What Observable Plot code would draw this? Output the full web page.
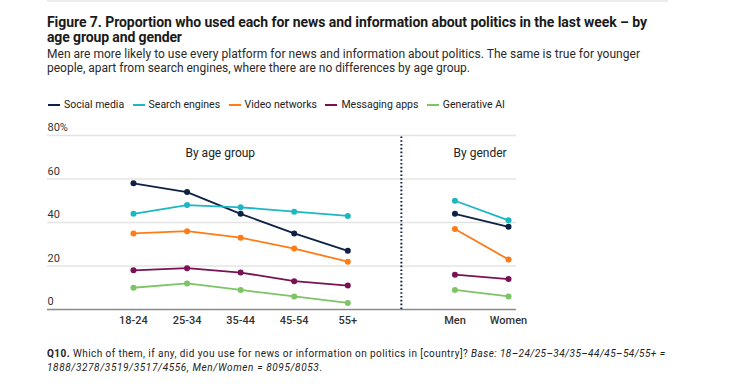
<!DOCTYPE html>
<html><head><meta charset="utf-8">
<script src="https://cdn.jsdelivr.net/npm/d3@7"></script>
<script src="https://cdn.jsdelivr.net/npm/@observablehq/plot@0.6"></script>
<style>
body{margin:0;background:#fff;font-family:Roboto,"Noto Sans",sans-serif;color:#1a1a1a;}
#page{position:relative;width:733px;height:392px;overflow:hidden;}
.topline{position:absolute;left:47px;top:0;width:621px;height:2px;background:#ececec;}
.fit{display:inline-block;white-space:nowrap;}
.title{position:absolute;left:47px;top:15.4px;font-size:14px;font-weight:700;line-height:15px;color:#1a1a1a;}
.subtitle{position:absolute;left:47px;top:47px;font-size:12px;line-height:14.4px;color:#2a2a2a;}
.legend{position:absolute;left:48px;top:98px;font-size:10.5px;line-height:13px;color:#222;display:flex;align-items:center;white-space:nowrap;}
.legend .item{display:flex;align-items:center;margin-right:8.5px;}
.legend .sw{width:12px;height:2px;margin-right:4px;}
#chart{position:absolute;left:0;top:115px;}
.caption{position:absolute;left:47px;top:346.6px;font-size:10px;line-height:14px;color:#222;}
</style></head>
<body><div id="page">
<div class="topline"></div>
<div class="title"><span class="fit" data-w="600">Figure 7. Proportion who used each for news and information about politics in the last week – by</span><br><span class="fit" data-w="135">age group and gender</span></div>
<div class="subtitle"><span class="fit" data-w="593">Men are more likely to use every platform for news and information about politics. The same is true for younger</span><br><span class="fit" data-w="423">people, apart from search engines, where there are no differences by age group.</span></div>
<div class="legend" id="legend"></div>
<div id="chart"></div>
<div class="caption"><span class="fit" data-w="618"><b>Q10.</b> Which of them, if any, did you use for news or information on politics in [country]? <i>Base: 18–24/25–34/35–44/45–54/55+ =</i></span><br><span class="fit" data-w="275"><i>1888/3278/3519/3517/4556, Men/Women = 8095/8053</i>.</span></div>
</div>
<script>
// ---- data ----
const ageGroups = ["18-24","25-34","35-44","45-54","55+"];
const genders = ["Men","Women"];
const platforms = ["Social media","Search engines","Video networks","Messaging apps","Generative AI"];
const platformColors = ["#0e2145","#1bb8c4","#ff7b16","#7a1155","#7dc465"];
const ageSocial = [58,54,44,35,27];
const ageSearch = [44,48,47,45,43];
const ageVideo = [35,36,33,28,22];
const ageMessaging = [18,19,17,13,11];
const ageGenAI = [10,12,9,6,3];
const genderSocial = [44,38];
const genderSearch = [50,41];
const genderVideo = [37,23];
const genderMessaging = [16,14];
const genderGenAI = [9,6];
const yTicks = [0,20,40,60,80];
const groupLabels = ["By age group","By gender"];

// ---- build table ----
const ageSeries = [ageSocial,ageSearch,ageVideo,ageMessaging,ageGenAI];
const genderSeries = [genderSocial,genderSearch,genderVideo,genderMessaging,genderGenAI];
const slots = [...ageGroups, "", ...genders];
const sepIndex = ageGroups.length;
const rows = [];
platforms.forEach((p,k)=>{
  ageSeries[k].forEach((v,i)=>rows.push({platform:p,group:"age",slot:i,value:v}));
  genderSeries[k].forEach((v,j)=>rows.push({platform:p,group:"gender",slot:sepIndex+1+j,value:v}));
});
const labelRows = [{text:groupLabels[0],x:1.62,y:71.7},{text:groupLabels[1],x:6.47,y:71.7}];

// legend
const lg = document.getElementById("legend");
platforms.forEach((p,k)=>{
  const it = document.createElement("div"); it.className="item";
  const sw = document.createElement("div"); sw.className="sw"; sw.style.background=platformColors[k];
  const tx = document.createElement("span"); tx.textContent=p;
  it.appendChild(sw); it.appendChild(tx); lg.appendChild(it);
});

const chart = Plot.plot({
  width: 733, height: 215,
  marginTop: 20, marginBottom: 21, marginLeft: 47, marginRight: 217,
  style: {fontFamily: "Roboto, 'Noto Sans', sans-serif", fontSize: "11px", color: "#333", overflow: "visible"},
  x: {type: "linear", domain: [-1.605, 7.149]},
  y: {domain: [0, 80]},
  color: {domain: platforms, range: platformColors},
  marks: [
    Plot.ruleY(yTicks.filter(d=>d>0), {stroke: "#e4e4e4", strokeWidth: 1.5}),
    Plot.ruleY([0], {stroke: "#8a8a8a", strokeWidth: 1.5}),
    Plot.ruleX([sepIndex], {y1: 0, y2: 80, stroke: "#0e2145", strokeWidth: 2, strokeDasharray: "1.6,2.2"}),
    Plot.line(rows, {x: "slot", y: "value", z: d=>d.platform+"|"+d.group, stroke: "platform", strokeWidth: 1.8}),
    Plot.dot(rows, {x: "slot", y: "value", fill: "platform", r: 3}),
    Plot.text(labelRows, {x: "x", y: "y", text: "text", fontSize: 12, fill: "#222"}),
    Plot.axisY(yTicks, {anchor: "left", tickSize: 0, tickPadding: 0, textAnchor: "start", dy: -8, label: null, fill: "#333", tickFormat: d => d === 80 ? "80%" : String(d)}),
    Plot.axisX(slots.map((s,i)=>i).filter(i=>slots[i] !== ""), {tickSize: 0, tickPadding: 7, label: null, fontWeight: 500, fill: "#333", tickFormat: i => slots[i]})
  ]
});
document.getElementById("chart").appendChild(chart);

function fit(){
  document.querySelectorAll(".fit").forEach(el=>{
    el.style.letterSpacing = "0px";
    const w = el.getBoundingClientRect().width;
    const n = el.textContent.length;
    const target = +el.dataset.w;
    el.style.letterSpacing = ((target - w) / Math.max(1,n-1)) + "px";
  });
}
fit();
if (document.fonts && document.fonts.ready) document.fonts.ready.then(fit);
</script>
</body></html>
